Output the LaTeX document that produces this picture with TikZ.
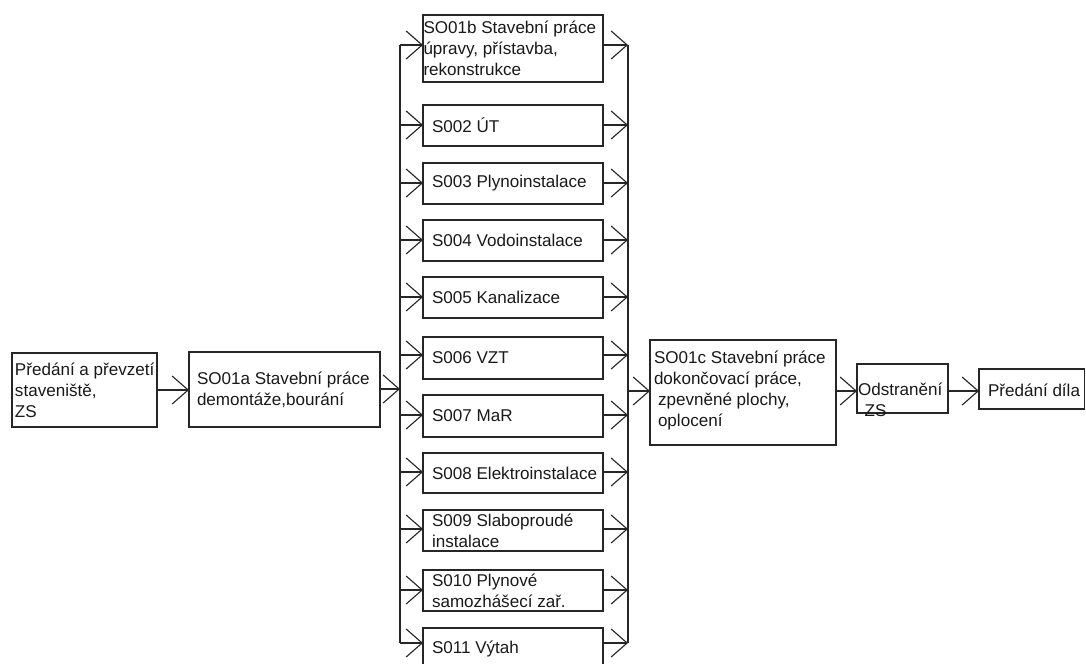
\documentclass[tikz,border=0pt]{standalone}
\usepackage{fontspec}
\setmainfont{Liberation Sans}
\usetikzlibrary{arrows.meta}

\tikzset{
  box/.style={draw=black!85, line width=0.9pt, inner sep=0pt, outer sep=0pt},
  lbl/.style={anchor=west, align=left, inner sep=0pt, outer sep=0pt,
              font=\fontsize{12.8}{15.75}\selectfont, text=black!90},
  flow/.style={draw=black!85, line width=0.85pt,
               -{Straight Barb[length=12pt,width=21pt,line join=miter]}},
  bus/.style={draw=black!85, line width=0.85pt}
}

% rectangle node given by its corners (x1,y1) and (x2,y2), in pixel units
\newcommand\pbox[5]{%
  \node[box, minimum width={(#4-#2)*0.75pt}, minimum height={(#5-#3)*0.75pt}]
    (#1) at ({(#2+#4)/2},{(#3+#5)/2}) {};}

\begin{document}
\begin{tikzpicture}[x=0.75pt,y=-0.75pt]
\useasboundingbox (0,0) rectangle (1086,664);

% --- main chain ---
\pbox{start}{12}{353}{157}{427}
\node[lbl] (tstart) at (15,390) {Předání a převzetí\\staveniště,\\ZS};

\pbox{demo}{189}{352}{380}{427}
\node[lbl] (tdemo) at (197,390) {SO01a Stavební práce\\demontáže,bourání};

\pbox{fin}{650}{340}{836}{445}
\node[lbl] (tfin) at (654,390) {SO01c Stavební práce\\dokončovací práce,\\\hspace{3pt}zpevněné plochy,\\\hspace{3pt}oplocení};

\pbox{zs}{857}{364}{948}{413}
\node[lbl] (tzs) at (858,400) {Odstranění\\\hspace{5pt}ZS};

\pbox{hand}{979}{369}{1084.5}{409}
\node[lbl] (thand) at (988,390) {Předání díla};

% --- parallel branch: name / top / bottom / arrow level / text x / text ---
\foreach \n/\t/\b/\a/\px/\txt in {
  m1/15/82/45/423.5/{SO01b Stavební práce\\úpravy, přístavba,\\rekonstrukce},
  m2/105/146/125/432/{S002 ÚT},
  m3/163/204/183/432/{S003 Plynoinstalace},
  m4/220/261/240/432/{S004 Vodoinstalace},
  m5/277/318/297/432/{S005 Kanalizace},
  m6/337/379/355/432/{S006 VZT},
  m7/395/437/415/432/{S007 MaR},
  m8/453/493/472/432/{S008 Elektroinstalace},
  m9/510/551/529/432/{S009 Slaboproudé\\instalace},
  m10/570/611/590/432/{S010 Plynové\\samozhášecí zař.},
  m11/628/670/643/432/{S011 Výtah}%
}{
  \pbox{\n}{423}{\t}{603}{\b}
  \node[lbl] (t\n) at (\px,{(\t+\b)/2}) {\txt};
  \coordinate (L\n) at (400,\a);
  \coordinate (R\n) at (628,\a);
  \draw[flow] (L\n) -- (L\n -| \n.west);
  \draw[flow] (R\n -| \n.east) -- (R\n);
}

% --- distribution and collection buses ---
\draw[bus] (Lm1) -- (Lm11);
\draw[bus] (Rm1) -- (Rm11);

\coordinate (busin) at (400,389);
\coordinate (busout) at (628,391);

% --- connectors of the main chain ---
\draw[flow] (start.east) -- (start.east -| demo.west);
\draw[flow] (busin -| demo.east) -- (busin);
\draw[flow] (busout) -- (busout -| fin.west);
\draw[flow] (busout -| fin.east) -- (busout -| zs.west);
\draw[flow] (busout -| zs.east) -- (busout -| hand.west);
\end{tikzpicture}
\end{document}
